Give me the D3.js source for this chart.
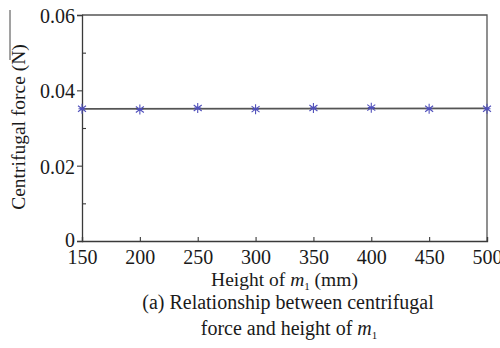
<!DOCTYPE html>
<html>
<head>
<meta charset="utf-8">
<script src="https://cdn.jsdelivr.net/npm/d3@7"></script>
<style>
  body { margin: 0; background: #fff; }
  text { font-family: "Liberation Serif", "Times New Roman", serif; fill: #1a1a1a; }
</style>
</head>
<body>
<svg id="chart"></svg>
<script>
// Data
const heights = [150, 200, 250, 300, 350, 400, 450, 500];
const forces = [0.0351, 0.0349, 0.0353, 0.0350, 0.0353, 0.0354, 0.0351, 0.0351];
const xTicks = [150, 200, 250, 300, 350, 400, 450, 500];
const yMajor = [0, 0.02, 0.04, 0.06];
const yMinor = [0.01, 0.03, 0.05];

const W = 500, H = 348;
const margin = { top: 15, right: 13, bottom: 107, left: 82 };
const width = W - margin.left - margin.right;
const height = H - margin.top - margin.bottom;

const svg = d3.select('#chart')
    .attr('width', W)
    .attr('height', H);

const g = svg.append('g')
    .attr('transform', `translate(${margin.left},${margin.top})`);

const x = d3.scaleLinear().domain([150, 500]).range([0, width]);
const y = d3.scaleLinear().domain([0, 0.06]).range([height, 0]);

const axisColor = '#3a3a3a';

// frame (top and right)
g.append('path')
    .attr('d', `M0,0H${width}V${height}`)
    .attr('fill', 'none')
    .attr('stroke', '#555')
    .attr('stroke-width', 1.3);

// x axis, ticks inward
g.append('g')
    .attr('transform', `translate(0,${height})`)
    .call(d3.axisBottom(x).tickValues(xTicks).tickSize(-4).tickPadding(9).tickFormat(d3.format('d')));

// y axis, major ticks outward with labels
g.append('g')
    .attr('class', 'y-axis')
    .call(d3.axisLeft(y).tickValues(yMajor).tickSize(5).tickPadding(2)
        .tickFormat(d => d === 0 ? '0' : d3.format('.2f')(d)));

// minor y ticks inward
g.append('g')
    .call(d3.axisLeft(y).tickValues(yMinor).tickSize(-4).tickFormat(''))
    .call(s => s.select('.domain').remove());

g.selectAll('.domain').attr('stroke', axisColor).attr('stroke-width', 1.3);
g.selectAll('.tick line').attr('stroke', axisColor).attr('stroke-width', 1.1);
g.selectAll('.tick text').attr('font-size', 20).style('fill', '#1a1a1a');
g.selectAll('.y-axis .tick text').attr('dy', d => d === 0 ? '0.28em' : '0.38em');

// fitted line through the points
const mx = d3.mean(heights), my = d3.mean(forces);
const slope = d3.sum(heights, (h, i) => (h - mx) * (forces[i] - my)) / d3.sum(heights, h => (h - mx) ** 2);
const fit = h => my + slope * (h - mx);

g.append('path')
    .datum([150, 500])
    .attr('d', d3.line().x(d => x(d)).y(d => y(fit(d))))
    .attr('fill', 'none')
    .attr('stroke', '#555')
    .attr('stroke-width', 1.6);

// asterisk markers
const star = 'M0,-5V5M-4,-3L4,3M-4,3L4,-3M-3.5,0H3.5';
g.selectAll('.pt')
    .data(heights)
    .enter()
    .append('path')
    .attr('class', 'pt')
    .attr('transform', (d, i) => `translate(${x(d)},${y(forces[i])})`)
    .attr('d', star)
    .attr('stroke', '#5050bb')
    .attr('stroke-width', 1.1)
    .attr('fill', 'none');

// axis titles
const cx = margin.left + width / 2;

const xt = svg.append('text')
    .attr('x', cx)
    .attr('y', 286)
    .attr('text-anchor', 'middle')
    .attr('font-size', 19.5);
xt.append('tspan').text('Height of ');
xt.append('tspan').attr('font-style', 'italic').text('m');
xt.append('tspan').attr('font-size', 11).attr('dy', 4).text('1');
xt.append('tspan').attr('dy', -4).text(' (mm)');

svg.append('text')
    .attr('transform', `translate(25,127) rotate(-90)`)
    .attr('text-anchor', 'middle')
    .attr('font-size', 19.5)
    .text('Centrifugal force (N)');

// small stray mark beside the y title
svg.append('line')
    .attr('x1', 10).attr('x2', 10)
    .attr('y1', 10).attr('y2', 60)
    .attr('stroke', '#444')
    .attr('stroke-width', 1);

// caption
svg.append('text')
    .attr('x', 288)
    .attr('y', 309)
    .attr('text-anchor', 'middle')
    .attr('font-size', 20)
    .text('(a) Relationship between centrifugal');

const c2 = svg.append('text')
    .attr('x', 289)
    .attr('y', 335)
    .attr('text-anchor', 'middle')
    .attr('font-size', 20);
c2.append('tspan').text('force and height of ');
c2.append('tspan').attr('font-style', 'italic').text('m');
c2.append('tspan').attr('font-size', 11).attr('dy', 4).text('1');
</script>
</body>
</html>
